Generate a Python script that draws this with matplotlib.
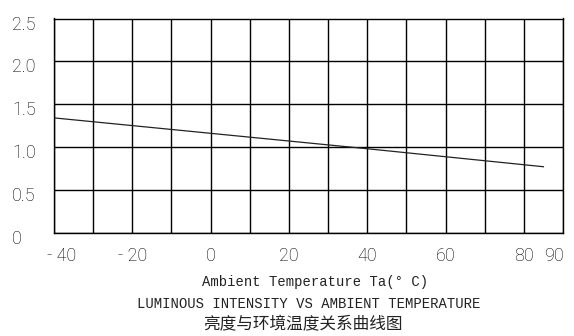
import matplotlib
matplotlib.use("Agg")
import matplotlib.pyplot as plt
import matplotlib.transforms as mtransforms

# data
temp = [-40, 40, 85]
intensity = [1.34, 0.98, 0.77]

x_ticks = [-40, -20, 0, 20, 40, 60, 80, 90]
x_grid = list(range(-40, 91, 10))
y_ticks = [0, 0.5, 1.0, 1.5, 2.0, 2.5]
y_labels = ["0", "0.5", "1.0", "1.5", "2.0", "2.5"]

xlabel = "Ambient Temperature Ta(° C)"
title_en = "LUMINOUS INTENSITY VS AMBIENT TEMPERATURE"
title_cn = "亮度与环境温度关系曲线图"

tick_font = ["Roboto", "DejaVu Sans"]

fig = plt.figure(figsize=(5.74, 3.36), dpi=100)
ax = fig.add_axes([54 / 574, 1 - 232.7 / 336, 509 / 574, 214.2 / 336])

ax.set_xlim(-40, 90)
ax.set_ylim(0, 2.5)

for x in x_grid:
    ax.axvline(x, color="black", lw=1.0, zorder=1)
for y in y_ticks:
    ax.axhline(y, color="black", lw=1.0, zorder=1)

ax.plot(temp, intensity, color="#222222", lw=0.9, zorder=2)

for s in ax.spines.values():
    s.set_linewidth(1.0)
    s.set_color("black")

ax.set_xticks(x_ticks)
ax.set_xticklabels([str(v).replace("-", "- ") if v < 0 else str(v) for v in x_ticks],
                   fontsize=13, family=tick_font, fontweight="light", color="black")
ax.set_yticks(y_ticks)
ax.set_yticklabels(y_labels, fontsize=13, family=tick_font, fontweight="light", color="black")
ax.tick_params(axis="both", length=0)
ax.tick_params(axis="x", pad=10)
ax.tick_params(axis="y", pad=30)
for lab in ax.get_yticklabels():
    lab.set_horizontalalignment("left")
    lab.set_transform(lab.get_transform() + mtransforms.ScaledTranslation(0, -4 / 100, fig.dpi_scale_trans))
xl = ax.get_xticklabels()
xl[0].set_transform(xl[0].get_transform() + mtransforms.ScaledTranslation(8 / 100, 0, fig.dpi_scale_trans))
xl[-1].set_transform(xl[-1].get_transform() + mtransforms.ScaledTranslation(-9 / 100, 0, fig.dpi_scale_trans))

fig.text(315 / 574, 1 - 282 / 336, xlabel, ha="center", va="center",
         fontsize=10, family=["Liberation Mono", "DejaVu Sans Mono"], color="#222222")
fig.text(309 / 574, 1 - 304 / 336, title_en, ha="center", va="center",
         fontsize=10, family=["Liberation Mono", "DejaVu Sans Mono"], color="#222222")
fig.text(303 / 574, 1 - 325 / 336, title_cn, ha="center", va="center",
         fontsize=12, family=["Noto Sans CJK SC", "DejaVu Sans"], color="#222222")

fig.savefig("out.png", dpi=100)
